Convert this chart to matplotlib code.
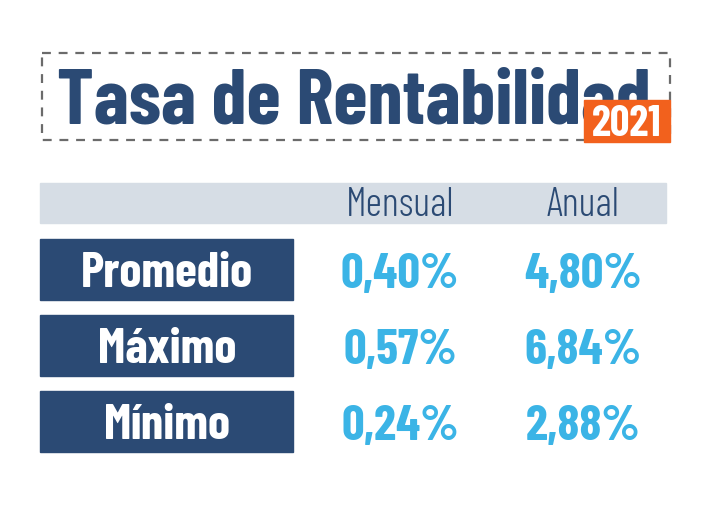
import matplotlib
matplotlib.use('Agg')
import matplotlib.pyplot as plt
from matplotlib.patches import Rectangle

title = 'Tasa de Rentabilidad'
year = '2021'
columns = ['Mensual', 'Anual']
categories = ['Promedio', 'Máximo', 'Mínimo']
mensual = [0.40, 0.57, 0.24]
anual = [4.80, 6.84, 2.88]

navy = '#2b4a74'
sky = '#3bb4e6'
orange = '#f2611d'
band = '#d6dde5'
fonts = ['Barlow Condensed', 'Roboto Condensed', 'DejaVu Sans']

plt.rcParams['font.family'] = fonts

def pct(v):
    return f'{v:.2f}%'.replace('.', ',')

fig = plt.figure(figsize=(7.11, 5.07), dpi=100)
ax = fig.add_axes([0, 0, 1, 1])
ax.set_xlim(0, 711)
ax.set_ylim(507, 0)
ax.axis('off')

# title box
ax.add_patch(Rectangle((42, 53), 628, 87, fill=False, edgecolor='#6b6b6b',
                       linestyle=(0, (4, 3.5)), linewidth=1.6))
ax.text(57, 124, title, fontsize=56.5, fontweight=700, color=navy, va='baseline', ha='left')
ax.add_patch(Rectangle((584, 100), 86, 42, color=orange, zorder=3))
ax.text(627, 136, year, fontsize=31, fontweight=700, color='white', va='baseline', ha='center', zorder=4)

# header band
col_x = [400, 583]
ax.add_patch(Rectangle((40, 183), 626, 40, color=band))
for x, c in zip(col_x, columns):
    ax.text(x, 216, c, fontsize=29, fontweight=300, color=navy, va='baseline', ha='center')

# rows
row_top = [239, 315, 391]
for top, cat, m, a in zip(row_top, categories, mensual, anual):
    ax.add_patch(Rectangle((40, top), 253, 61, color=navy))
    ax.text(167, top + 48, cat, fontsize=36, fontweight=700, color='white', va='baseline', ha='center')
    ax.text(col_x[0], top + 49, pct(m), fontsize=36, fontweight=700, color=sky, va='baseline', ha='center')
    ax.text(col_x[1], top + 49, pct(a), fontsize=36, fontweight=700, color=sky, va='baseline', ha='center')

fig.savefig('out.png', dpi=100)
